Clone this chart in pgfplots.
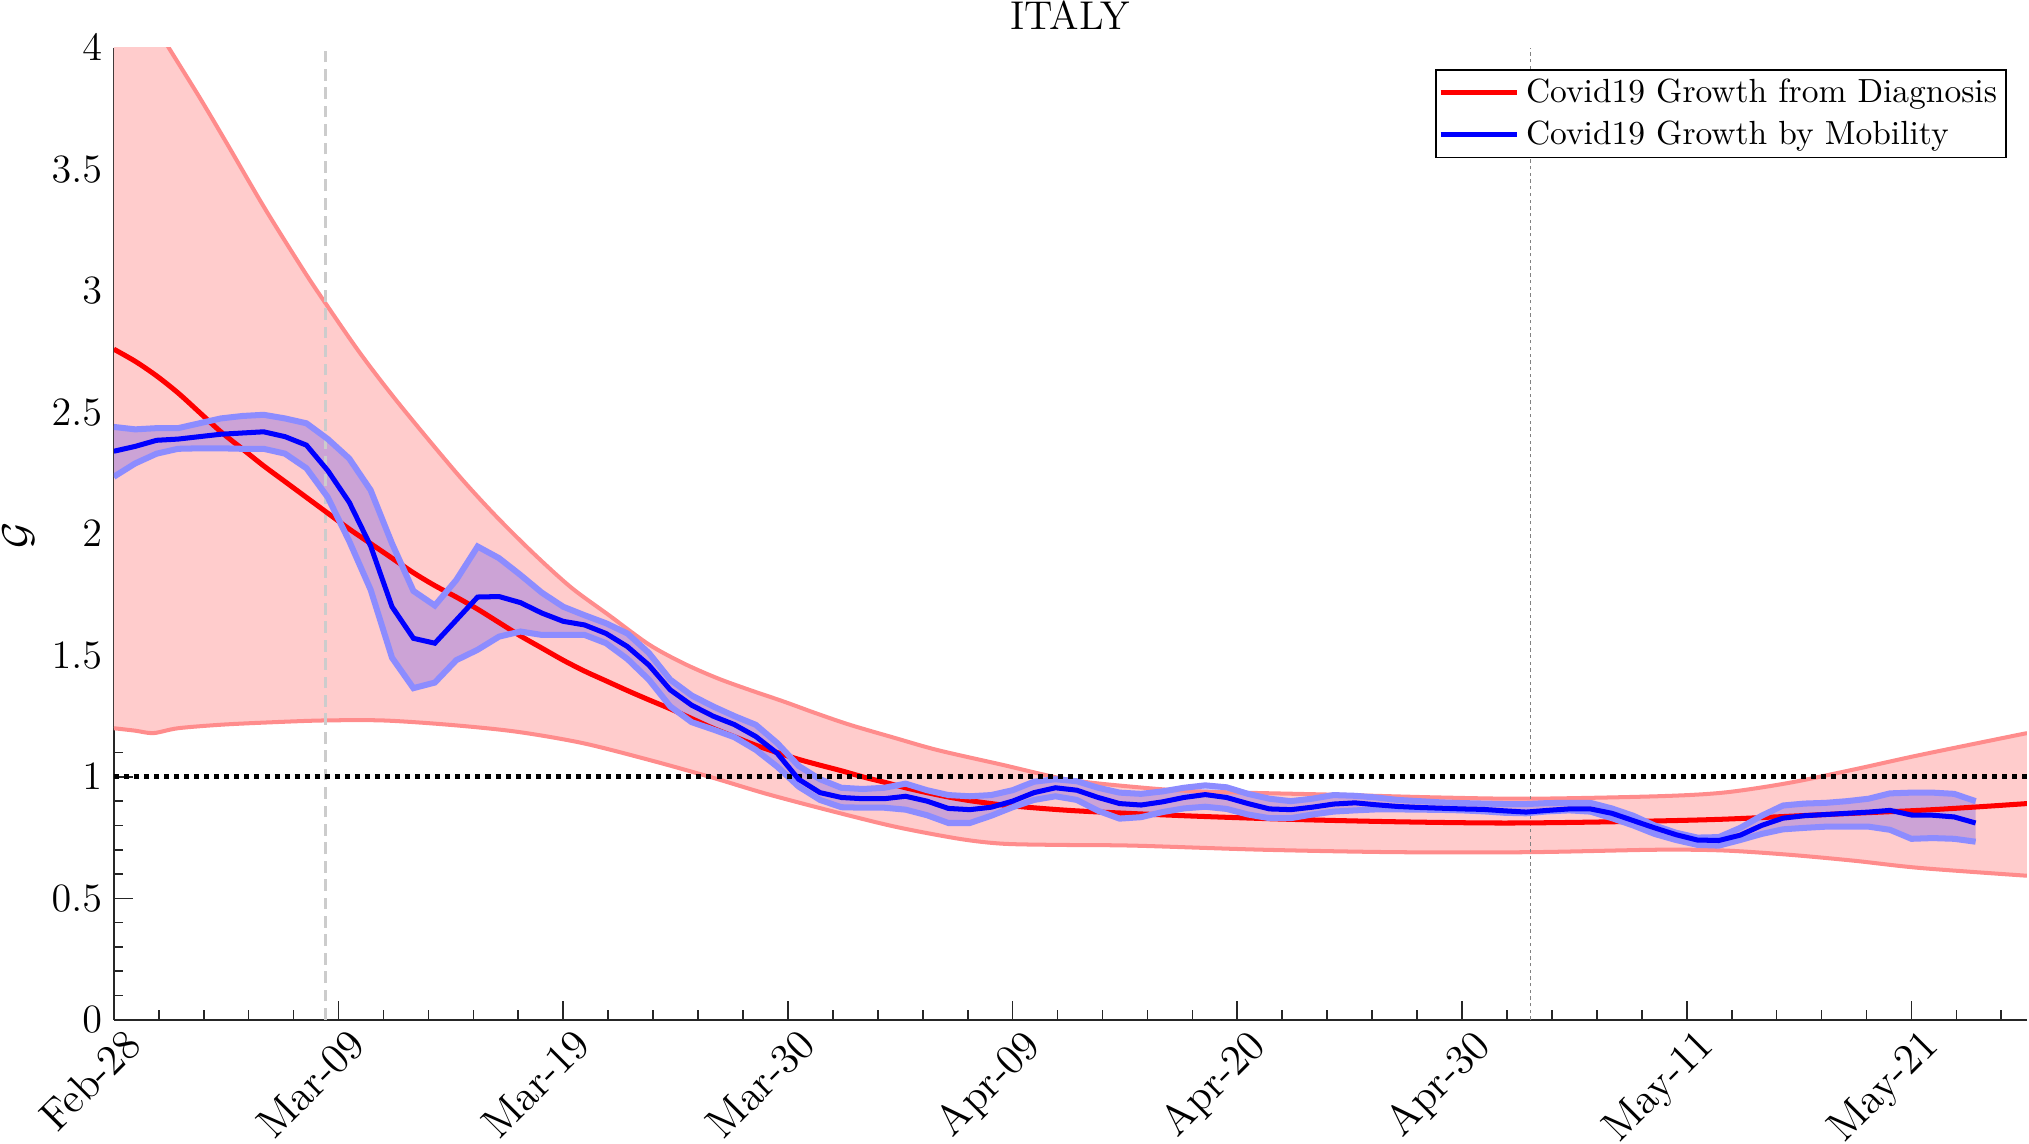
\documentclass[border=0pt]{standalone}
\usepackage{pgfplots}
\usepackage{pgfplotstable}
\pgfplotsset{compat=1.18}
\usepgfplotslibrary{fillbetween}
\definecolor{bandred}{RGB}{255,204,204}
\definecolor{edgered}{RGB}{255,140,140}
\definecolor{edgeblue}{RGB}{140,140,255}
\definecolor{vgray}{RGB}{204,204,204}
\definecolor{dgray}{RGB}{130,130,130}

\pgfplotstableread{
d c u l
0 2.34 2.44 2.235
1 2.36 2.43 2.29
2 2.385 2.435 2.33
3 2.39 2.435 2.35
4 2.40 2.455 2.352
5 2.41 2.475 2.352
6 2.415 2.485 2.35
7 2.42 2.49 2.35
8 2.40 2.475 2.33
9 2.365 2.455 2.27
10 2.26 2.39 2.15
11 2.13 2.31 1.97
12 1.95 2.18 1.77
13 1.70 1.96 1.49
14 1.57 1.765 1.365
15 1.55 1.705 1.388
16 1.645 1.81 1.48
17 1.74 1.948 1.523
18 1.742 1.90 1.577
19 1.717 1.831 1.598
20 1.674 1.758 1.584
21 1.64 1.70 1.584
22 1.625 1.665 1.584
23 1.59 1.632 1.55
24 1.536 1.59 1.485
25 1.46 1.51 1.40
26 1.358 1.40 1.29
27 1.295 1.335 1.225
28 1.25 1.29 1.195
29 1.215 1.25 1.163
30 1.166 1.214 1.111
31 1.097 1.139 1.042
32 0.99 1.045 0.96
33 0.935 0.99 0.905
34 0.915 0.955 0.875
35 0.91 0.95 0.873
36 0.91 0.955 0.873
37 0.92 0.972 0.865
38 0.90 0.945 0.842
39 0.87 0.925 0.81
40 0.865 0.92 0.81
41 0.875 0.925 0.84
42 0.90 0.945 0.875
43 0.935 0.98 0.905
44 0.955 0.99 0.92
45 0.945 0.982 0.905
46 0.915 0.955 0.86
47 0.89 0.935 0.828
48 0.884 0.93 0.834
49 0.897 0.94 0.855
50 0.915 0.955 0.87
51 0.927 0.965 0.877
52 0.915 0.957 0.868
53 0.89 0.93 0.845
54 0.868 0.91 0.83
55 0.865 0.90 0.83
56 0.875 0.91 0.845
57 0.888 0.925 0.857
58 0.893 0.922 0.862
59 0.885 0.915 0.866
60 0.878 0.905 0.866
61 0.874 0.90 0.865
62 0.871 0.895 0.864
63 0.868 0.892 0.862
64 0.866 0.89 0.858
65 0.86 0.888 0.852
66 0.855 0.888 0.85
67 0.862 0.892 0.858
68 0.868 0.893 0.862
69 0.868 0.893 0.857
70 0.85 0.87 0.83
71 0.82 0.84 0.80
72 0.79 0.80 0.765
73 0.762 0.77 0.74
74 0.74 0.75 0.72
75 0.738 0.752 0.717
76 0.76 0.79 0.74
77 0.80 0.84 0.765
78 0.83 0.882 0.784
79 0.84 0.89 0.79
80 0.845 0.893 0.795
81 0.85 0.90 0.795
82 0.855 0.91 0.795
83 0.862 0.932 0.782
84 0.843 0.935 0.745
85 0.842 0.935 0.748
86 0.835 0.93 0.745
87 0.81 0.90 0.733
}\bluedata

\begin{document}
\begin{tikzpicture}
\begin{axis}[
  scale only axis,
  width=571.4pt, height=290.3pt,
  xmin=0, xmax=89.4, ymin=0, ymax=4,
  axis x line*=bottom, axis y line*=left,
  axis line style={black!85, line width=0.5pt},
  tick align=inside,
  major tick length=5.7pt, minor tick length=2.8pt,
  every tick/.style={black!85, line width=0.5pt},
  xtick={0,10.5,21,31.5,42,52.5,63,73.5,84},
  xticklabels={Feb-28,Mar-09,Mar-19,Mar-30,Apr-09,Apr-20,Apr-30,May-11,May-21},
  minor xtick={2.1,4.2,6.3,8.4,12.6,14.7,16.8,18.9,23.1,25.2,27.3,29.4,33.6,35.7,37.8,39.9,44.1,46.2,48.3,50.4,54.6,56.7,58.8,60.9,65.1,67.2,69.3,71.4,75.6,77.7,79.8,81.9,86.1,88.2},
  ytick={0,0.5,1,1.5,2,2.5,3,3.5,4},
  minor ytick={0.1,0.2,0.3,0.4,0.6,0.7,0.8,0.9,1.1,1.2,1.3,1.4,1.6,1.7,1.8,1.9,2.1,2.2,2.3,2.4,2.6,2.7,2.8,2.9,3.1,3.2,3.3,3.4,3.6,3.7,3.8,3.9},
  yticklabel style={font=\large},
  xticklabel style={font={\fontsize{12.8}{15}\selectfont},xshift=2.5pt,yshift=3pt,rotate=45,anchor=north east},
  title={ITALY},
  title style={at={(0.5,1)},anchor=base,yshift=-0.5pt,font=\large},
  legend style={at={(0.9895,0.978)},anchor=north east, draw=black, line width=0.5pt, fill=white, font=\normalsize, inner xsep=0.7pt, inner ysep=0.5pt},
  legend cell align=left,
  legend image code/.code={\draw[#1] (0cm,0cm) -- (0.8cm,0cm);},
]
% red confidence band
\addplot[name path=ru, draw=none, smooth, forget plot] coordinates {
(0,4.37)(1,4.23)(2,4.085)(2.57,4.0)(4.0,3.797)(5.26,3.61)(7.05,3.34)(8.84,3.088)(9.79,2.962)(11.52,2.742)(13.31,2.537)(15.99,2.253)(17.78,2.08)(19.57,1.923)(21.36,1.78)(23.14,1.665)(25,1.545)(26.6,1.468)(28.2,1.406)(29.7,1.358)(31.3,1.31)(32.8,1.262)(34.4,1.214)(36.5,1.16)(38.5,1.11)(41.5,1.05)(44.5,0.99)(47.5,0.96)(50.7,0.94)(56.8,0.927)(62,0.915)(66.2,0.91)(72.1,0.92)(75.2,0.935)(78.2,0.974)(81.3,1.03)(84.4,1.09)(89.4,1.18)};
\addplot[name path=rl, draw=none, smooth, forget plot] coordinates {
(0,1.20)(1,1.19)(1.85,1.18)(3,1.20)(5.1,1.215)(7.5,1.225)(9.8,1.232)(12.6,1.232)(15.7,1.214)(18.8,1.186)(21.9,1.139)(25,1.07)(27.85,1.00)(30.5,0.93)(33.5,0.86)(36.5,0.795)(39.5,0.745)(41.5,0.725)(44,0.72)(47.6,0.717)(53.7,0.70)(59.9,0.69)(66.2,0.69)(72.1,0.70)(75.2,0.697)(78.2,0.68)(81.3,0.655)(84.4,0.625)(89.4,0.593)};
\addplot[bandred, forget plot] fill between[of=ru and rl];
\addplot[edgered, line width=1.2pt, smooth, forget plot] coordinates {
(0,4.37)(1,4.23)(2,4.085)(2.57,4.0)(4.0,3.797)(5.26,3.61)(7.05,3.34)(8.84,3.088)(9.79,2.962)(11.52,2.742)(13.31,2.537)(15.99,2.253)(17.78,2.08)(19.57,1.923)(21.36,1.78)(23.14,1.665)(25,1.545)(26.6,1.468)(28.2,1.406)(29.7,1.358)(31.3,1.31)(32.8,1.262)(34.4,1.214)(36.5,1.16)(38.5,1.11)(41.5,1.05)(44.5,0.99)(47.5,0.96)(50.7,0.94)(56.8,0.927)(62,0.915)(66.2,0.91)(72.1,0.92)(75.2,0.935)(78.2,0.974)(81.3,1.03)(84.4,1.09)(89.4,1.18)};
\addplot[edgered, line width=1.2pt, smooth, forget plot] coordinates {
(0,1.20)(1,1.19)(1.85,1.18)(3,1.20)(5.1,1.215)(7.5,1.225)(9.8,1.232)(12.6,1.232)(15.7,1.214)(18.8,1.186)(21.9,1.139)(25,1.07)(27.85,1.00)(30.5,0.93)(33.5,0.86)(36.5,0.795)(39.5,0.745)(41.5,0.725)(44,0.72)(47.6,0.717)(53.7,0.70)(59.9,0.69)(66.2,0.69)(72.1,0.70)(75.2,0.697)(78.2,0.68)(81.3,0.655)(84.4,0.625)(89.4,0.593)};
% vertical reference lines
\addplot[vgray, line width=0.8pt, dash pattern=on 3.5pt off 2pt, forget plot] coordinates {(9.9,0) (9.9,4)};
\addplot[dgray, line width=0.5pt, dash pattern=on 1pt off 1pt, forget plot] coordinates {(66.2,0) (66.2,4)};
% red central line
\addplot[red, line width=1.5pt, smooth] coordinates {
(0,2.76)(1,2.71)(2,2.65)(3,2.58)(4,2.50)(5,2.42)(6,2.35)(7,2.28)(8,2.215)(9,2.15)(10,2.085)(11,2.02)(12,1.96)(13,1.90)(14,1.84)(15,1.787)(16,1.74)(17,1.69)(18,1.635)(19,1.58)(20,1.53)(21,1.48)(22,1.435)(23,1.395)(24,1.355)(25,1.317)(26,1.28)(27,1.24)(28,1.20)(29,1.165)(30,1.13)(31,1.10)(32,1.072)(33,1.048)(34,1.025)(35,1.0)(36,0.978)(37,0.955)(38,0.935)(39,0.917)(40,0.902)(41,0.89)(42,0.88)(45,0.86)(50,0.84)(55,0.825)(60,0.815)(65,0.81)(70,0.815)(75,0.825)(80,0.845)(85,0.865)(89.4,0.89)};
\addlegendentry{Covid19 Growth from Diagnosis}
% blue band
\addplot[name path=bu, draw=none, forget plot] table[x=d, y=u] {\bluedata};
\addplot[name path=bl, draw=none, forget plot] table[x=d, y=l] {\bluedata};
\addplot[blue, fill opacity=0.2, draw=none, forget plot] fill between[of=bu and bl];
\addplot[edgeblue, line width=1.8pt, forget plot] table[x=d, y=u] {\bluedata};
\addplot[edgeblue, line width=1.8pt, forget plot] table[x=d, y=l] {\bluedata};
% unity line
\addplot[black, line width=1.5pt, dash pattern=on 1.5pt off 1.5pt, forget plot] coordinates {(0,1) (89.4,1)};
\addplot[blue, line width=1.5pt] table[x=d, y=c] {\bluedata};
\addlegendentry{Covid19 Growth by Mobility}
\end{axis}
\node[rotate=90, font=\large] at (-28.5pt,144.6pt) {$\mathcal{G}$};
\pgfresetboundingbox
\path (-34pt,-37pt) rectangle (572pt,304.6pt);
\end{tikzpicture}
\end{document}
